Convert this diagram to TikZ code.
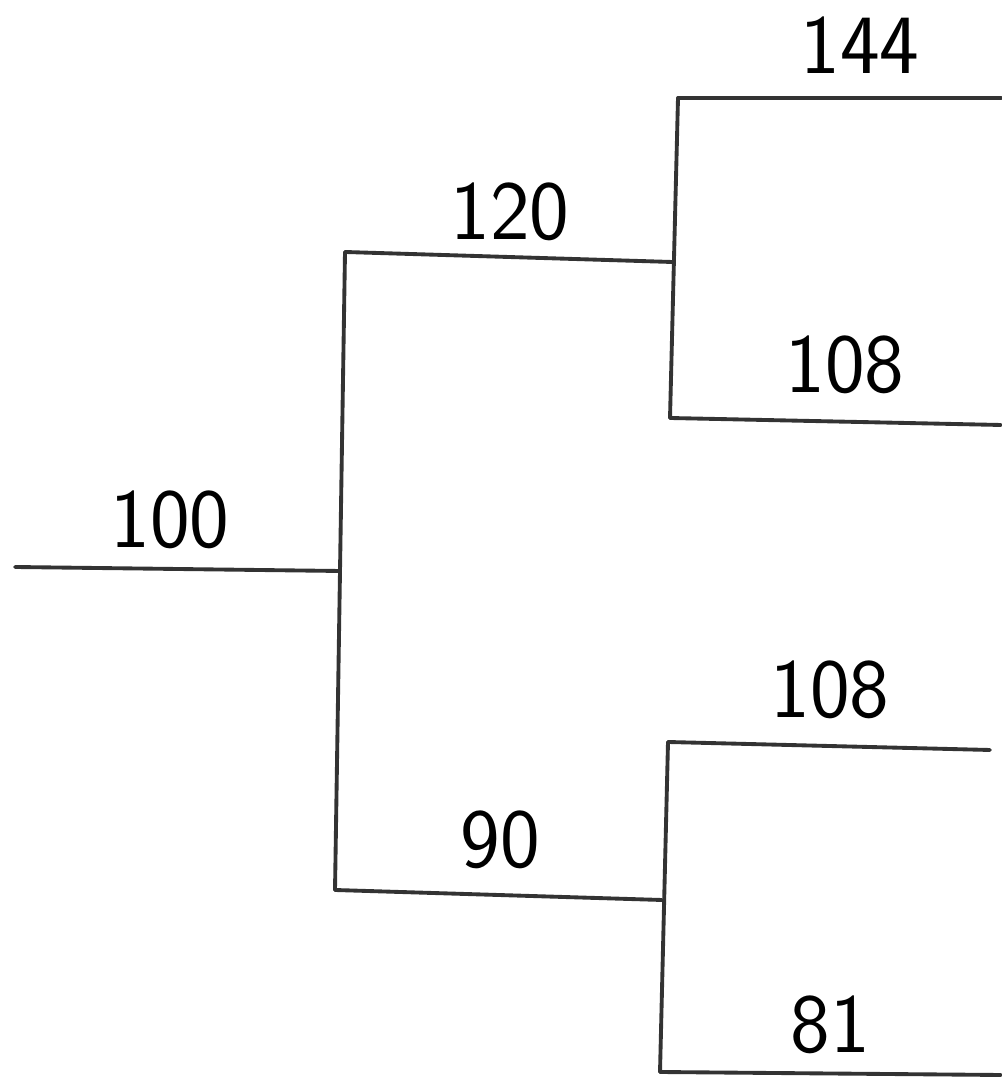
\documentclass[tikz,border=0pt]{standalone}
\usepackage{tikz}
\tikzset{branch/.style={line width=1.1pt,line cap=round,black!80},
  price/.style={font=\fontsize{24}{28}\selectfont\sffamily,inner sep=1pt}}

\begin{document}
\begin{tikzpicture}
\useasboundingbox (0,0) rectangle (10.01,10.8);
% points of the tree
\coordinate (r0) at (0.15,5.13);
\coordinate (n0) at (3.40,5.09);
\coordinate (u0) at (3.45,8.28);
\coordinate (d0) at (3.35,1.90);
\coordinate (u1) at (6.72,8.18);
\coordinate (uu) at (6.78,9.82);
\coordinate (ud) at (6.70,6.62);
\coordinate (uuE) at (10.01,9.82);
\coordinate (udE) at (10.01,6.55);
\coordinate (d1) at (6.62,1.80);
\coordinate (du) at (6.68,3.38);
\coordinate (dd) at (6.60,0.08);
\coordinate (duE) at (9.90,3.30);
\coordinate (ddE) at (10.01,0.05);
% prices
\node[price] (p0) at (1.70,5.60) {100};
\node[price] (pu) at (5.10,8.68) {120};
\node[price] (puu) at (8.60,10.35) {144};
\node[price] (pud) at (8.45,7.15) {108};
\node[price] (pd) at (5.00,2.40) {90};
\node[price] (pdu) at (8.30,3.90) {108};
\node[price] (pdd) at (8.30,0.55) {81};
% lines
\draw[branch] (r0) -- (n0);
\draw[branch] (u0) -- (d0);
\draw[branch] (u0) -- (u1);
\draw[branch] (d0) -- (d1);
\draw[branch] (uu) -- (ud);
\draw[branch] (uu) -- (uuE);
\draw[branch] (ud) -- (udE);
\draw[branch] (du) -- (dd);
\draw[branch] (du) -- (duE);
\draw[branch] (dd) -- (ddE);
\end{tikzpicture}
\end{document}
